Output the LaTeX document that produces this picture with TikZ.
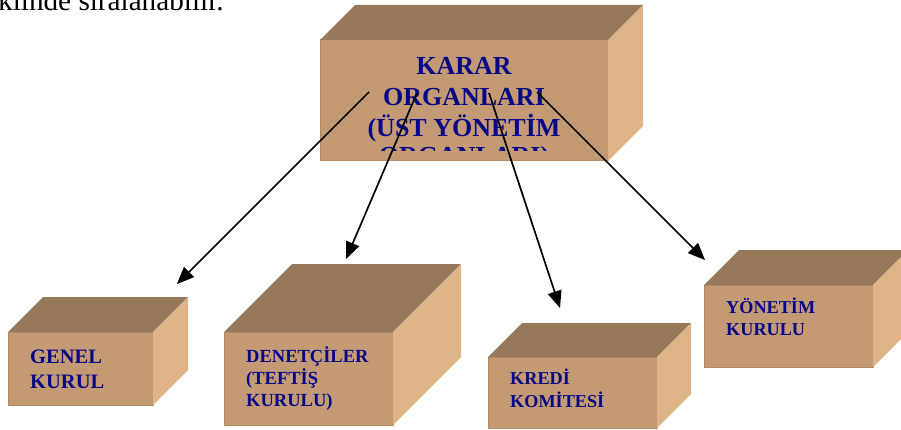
\documentclass[tikz,border=0pt]{standalone}
\usepackage{fontspec}
\setmainfont{Liberation Serif}
\usetikzlibrary{arrows.meta}

\definecolor{frontside}{RGB}{195,154,115}
\definecolor{frontline}{RGB}{178,138,100}
\definecolor{topside}{RGB}{150,121,90}
\definecolor{rightside}{RGB}{222,179,134}
\definecolor{labelblue}{RGB}{8,8,135}

% name, x, y, width, height, depth
\newcommand{\cuboid}[6]{
  \node[front, minimum width=#4, minimum height=#5, anchor=north west] (#1) at (#2,#3) {};
  \fill[topside] (#1.north west) -- ++(#6,-#6) -- ++(#4,0) -- (#1.north east) -- cycle;
  \fill[rightside] (#1.north east) -- ++(#6,-#6) -- ++(0,#5) -- (#1.south east) -- cycle;
}

\begin{document}
\begin{tikzpicture}[x=1pt, y=-1pt,
    front/.style={fill=frontside, draw=frontline, line width=1pt, outer sep=0pt, inner sep=0pt},
    boxtext/.style={text=labelblue, align=left, inner sep=0pt, anchor=base west},
    link/.style={line width=1.7pt, -{Triangle[length=17pt, width=14pt]}}]
  \useasboundingbox (0,0) rectangle (901,430);

  \node[anchor=base west, inner sep=0pt, font=\fontsize{29.2}{34}\selectfont] (line) at (-2,11) {klinde sıralanabilir.};

  % boxes
  \cuboid{karar}{320}{40}{288}{121}{35}
  \cuboid{genel}{8}{332}{145}{73}{35}
  \cuboid{denetci}{224}{332}{169}{93}{68}
  \cuboid{kredi}{488}{357}{169}{71}{34}
  \cuboid{yonetim}{704}{285}{169}{82}{35}

  % last line sits on the base anchor
  \begin{scope}
    \clip (320,40) rectangle (608,150.5);
    \node[text=labelblue, align=center, inner sep=0pt, anchor=base,
      font=\fontsize{26}{31}\selectfont\bfseries] (karar-t) at (464,165)
      {KARAR\\ORGANLARI\\(ÜST YÖNETİM\\[-3pt]ORGANLARI)};
  \end{scope}

  \node[boxtext, font=\fontsize{20.5}{25}\selectfont\bfseries] (genel-t) at (30,388) {GENEL\\KURUL};
  \node[boxtext, font=\fontsize{18.5}{22}\selectfont\bfseries] (denetci-t) at (246,406) {DENETÇİLER\\(TEFTİŞ\\KURULU)};
  \node[boxtext, font=\fontsize{18.2}{22.5}\selectfont\bfseries] (kredi-t) at (510,407) {KREDİ\\KOMİTESİ};
  \node[boxtext, font=\fontsize{18.2}{22}\selectfont\bfseries] (yonetim-t) at (726,335) {YÖNETİM\\KURULU};

  % arrow ends
  \coordinate (out1) at (369,92);
  \coordinate (out2) at (417,93);
  \coordinate (out3) at (489,93);
  \coordinate (out4) at (537,92);
  \coordinate (genel-in) at (177,284);
  \coordinate (denetci-in) at (346,259);
  \coordinate (kredi-in) at (560,308);
  \coordinate (yonetim-in) at (705,260);

  \draw[link] (out1) -- (genel-in);
  \draw[link] (out2) -- (denetci-in);
  \draw[link] (out3) -- (kredi-in);
  \draw[link] (out4) -- (yonetim-in);
\end{tikzpicture}
\end{document}
